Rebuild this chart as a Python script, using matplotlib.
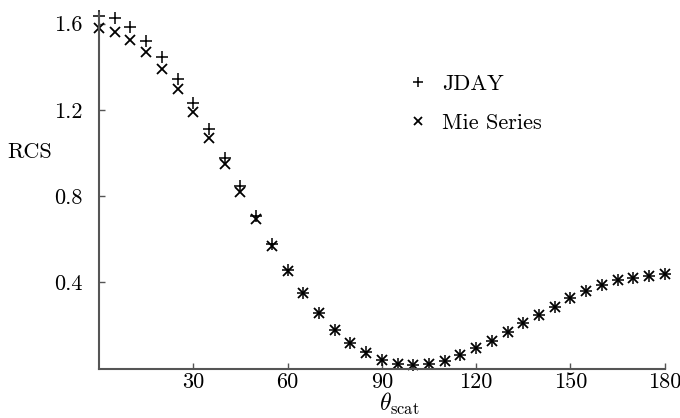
import matplotlib
matplotlib.use("Agg")
import matplotlib.pyplot as plt

theta = list(range(0, 181, 5))
jday = [1.638, 1.625, 1.585, 1.52, 1.445, 1.345, 1.232, 1.11, 0.978, 0.848,
        0.71, 0.58, 0.458, 0.352, 0.258, 0.18, 0.12, 0.076, 0.041, 0.023,
        0.018, 0.023, 0.037, 0.062, 0.094, 0.13, 0.17, 0.21, 0.25, 0.288,
        0.326, 0.358, 0.386, 0.41, 0.42, 0.43, 0.437]
mie = [1.582, 1.562, 1.525, 1.468, 1.392, 1.295, 1.19, 1.07, 0.95, 0.82,
       0.692, 0.567, 0.455, 0.35, 0.257, 0.18, 0.12, 0.074, 0.041, 0.023,
       0.018, 0.023, 0.037, 0.062, 0.094, 0.13, 0.17, 0.21, 0.25, 0.288,
       0.326, 0.358, 0.386, 0.41, 0.42, 0.43, 0.437]
xticks = [30, 60, 90, 120, 150, 180]
yticks = [0.4, 0.8, 1.2, 1.6]
ytick_labels = ["0.4", "0.8", "1.2", "1.6"]

plt.rcParams['font.family'] = ['cmr10', 'DejaVu Serif']
plt.rcParams['mathtext.fontset'] = 'cm'
plt.rcParams['axes.formatter.use_mathtext'] = True

fig = plt.figure(figsize=(6.8, 4.18), dpi=100)
ax = fig.add_axes([0.1456, 0.118, 0.832, 0.851])

ax.plot(theta, jday, linestyle='none', marker='+', color='black',
        markersize=9, markeredgewidth=1.1, label='JDAY', clip_on=False)
ax.plot(theta, mie, linestyle='none', marker='x', color='black',
        markersize=7.5, markeredgewidth=1.3, label='Mie Series', clip_on=False)

ax.set_xlim(0, 180)
ax.set_ylim(0, 1.65)
ax.set_xticks(xticks)
ax.set_xticklabels([str(t) for t in xticks])
ax.set_yticks(yticks)
ax.set_yticklabels(ytick_labels)
ax.tick_params(direction='in', length=4, width=1, colors='#555555',
               labelcolor='black', labelsize=16)
ax.tick_params(axis='x', pad=3)
ax.tick_params(axis='y', pad=12)

for s in ['top', 'right']:
    ax.spines[s].set_visible(False)
for s in ['left', 'bottom']:
    ax.spines[s].set_color('#555555')
    ax.spines[s].set_linewidth(1.5)

ax.set_xlabel(r'$\theta_{\rm scat}$', fontsize=17)
ax.xaxis.set_label_coords(0.53, -0.1)
ax.xaxis.label.set_va('center')
ax.set_ylabel('RCS', fontsize=16, rotation=0, va='center', ha='center')
ax.yaxis.set_label_coords(-0.123, 0.609)

ax.legend(loc='center left', bbox_to_anchor=(0.545, 0.745), frameon=False,
          fontsize=16, handlelength=1.0, handletextpad=0.55, labelspacing=0.9,
          borderpad=0, borderaxespad=0, markerscale=0.8)

fig.savefig('out.png', dpi=100)
